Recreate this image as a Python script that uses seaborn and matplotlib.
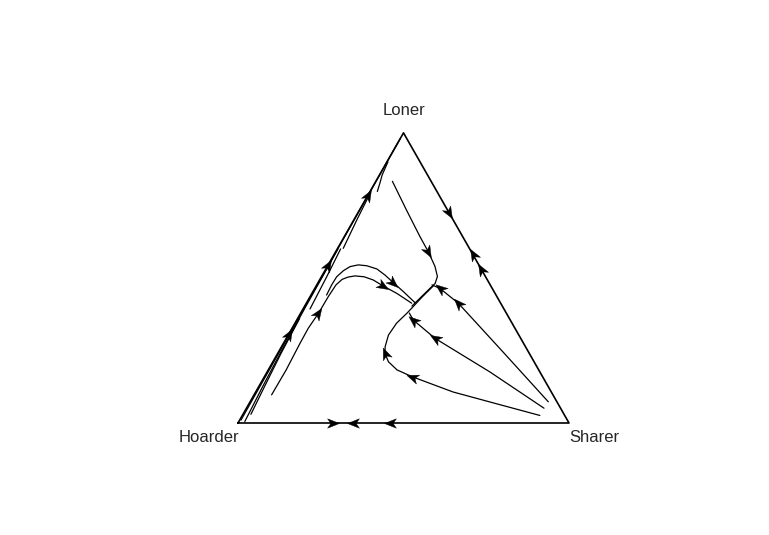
import numpy as np
import pandas as pd
import seaborn as sns
import matplotlib.pyplot as plt
from matplotlib.path import Path
from matplotlib.markers import MarkerStyle

# corner names of the simplex
corner_labels = ["Hoarder", "Sharer", "Loner"]

# trajectories, as sharer share and loner share
# (hoarder share = 1 - sharer - loner); *_arrows = point index carrying an arrow head
top_sharer = [0.050, 0.142, 0.228, 0.280, 0.325, 0.350, 0.355, 0.348, 0.336, 0.324]
top_loner = [0.833, 0.734, 0.643, 0.590, 0.540, 0.505, 0.481, 0.464, 0.434, 0.403]
top_arrows = [3]

bend_sharer = [0.899, 0.749, 0.596, 0.519, 0.445, 0.389, 0.349, 0.324, 0.313, 0.303,
               0.307, 0.321, 0.327, 0.339, 0.354]
bend_loner = [0.026, 0.066, 0.107, 0.134, 0.160, 0.183, 0.211, 0.240, 0.263, 0.303,
              0.344, 0.378, 0.396, 0.434, 0.473]
bend_arrows = [4, 7]

fan_mid_sharer = [0.899, 0.673, 0.449, 0.352, 0.328]
fan_mid_loner = [0.051, 0.176, 0.292, 0.355, 0.379]
fan_mid_arrows = [2, 3]

fan_top_sharer = [0.901, 0.678, 0.459, 0.378, 0.348]
fan_top_loner = [0.073, 0.245, 0.413, 0.464, 0.476]
fan_top_arrows = [2, 3]

hump_low_sharer = [0.053, 0.054, 0.050, 0.049, 0.054, 0.055, 0.058, 0.067, 0.081, 0.100,
                   0.129, 0.162, 0.203, 0.256, 0.318]
hump_low_loner = [0.097, 0.183, 0.275, 0.327, 0.378, 0.436, 0.476, 0.495, 0.503, 0.507,
                  0.504, 0.493, 0.472, 0.447, 0.413]
hump_low_arrows = [4, 12]

hump_high_sharer = [0.047, 0.045, 0.046, 0.056, 0.069, 0.091, 0.118, 0.154, 0.189, 0.227,
                    0.273, 0.327]
hump_high_loner = [0.441, 0.476, 0.504, 0.525, 0.539, 0.545, 0.542, 0.531, 0.510, 0.484,
                   0.453, 0.415]
hump_high_arrows = [9]

# thin runs hugging the Hoarder-Loner edge
edge_a_sharer = [0.004, 0.002, 0.001, 0.000]
edge_a_loner = [0.010, 0.350, 0.700, 0.980]
edge_b_sharer = [0.018, 0.012, 0.007, 0.004, 0.002]
edge_b_loner = [0.005, 0.120, 0.250, 0.400, 0.600]
edge_c_sharer = [0.024, 0.017, 0.010, 0.006]
edge_c_loner = [0.030, 0.130, 0.240, 0.360]
edge_d_sharer = [0.021, 0.016, 0.010]
edge_d_loner = [0.393, 0.504, 0.600]
edge_e_sharer = [0.017, 0.009, 0.004]
edge_e_loner = [0.602, 0.700, 0.780]
edge_f_sharer = [0.022, 0.015, 0.008, 0.003]
edge_f_loner = [0.798, 0.828, 0.855, 0.900]

# arrows on the triangle sides (direction +1 = towards Loner / towards Sharer on the base)
left_side_loner = [0.307, 0.545, 0.786]
left_side_dir = [1, 1, 1]
right_side_loner = [0.723, 0.583, 0.530]
right_side_dir = [-1, 1, 1]
base_sharer = [0.288, 0.348, 0.459]
base_dir = [1, -1, -1]

trajectories = {
    "top": (top_sharer, top_loner, top_arrows),
    "bend": (bend_sharer, bend_loner, bend_arrows),
    "fan_mid": (fan_mid_sharer, fan_mid_loner, fan_mid_arrows),
    "fan_top": (fan_top_sharer, fan_top_loner, fan_top_arrows),
    "hump_low": (hump_low_sharer, hump_low_loner, hump_low_arrows),
    "hump_high": (hump_high_sharer, hump_high_loner, hump_high_arrows),
    "edge_a": (edge_a_sharer, edge_a_loner, []),
    "edge_b": (edge_b_sharer, edge_b_loner, []),
    "edge_c": (edge_c_sharer, edge_c_loner, []),
    "edge_d": (edge_d_sharer, edge_d_loner, []),
    "edge_e": (edge_e_sharer, edge_e_loner, []),
    "edge_f": (edge_f_sharer, edge_f_loner, []),
}

H = np.sqrt(3) / 2


def to_xy(sharer, loner):
    sharer = np.asarray(sharer, dtype=float)
    loner = np.asarray(loner, dtype=float)
    return sharer + loner / 2, loner * H


rows = []
for name, (s, l, _) in trajectories.items():
    x, y = to_xy(s, l)
    for i in range(len(x)):
        rows.append({"traj": name, "step": i, "x": x[i], "y": y[i]})
df = pd.DataFrame(rows)

sns.set_style("white")
plt.rcParams["font.family"] = ["Liberation Sans", "DejaVu Sans"]

fig = plt.figure(figsize=(7.69, 5.35), dpi=100)
ax = fig.add_axes([0.20189, 0.14673, 0.64564, 0.68879])

# triangle outline
tri_x, tri_y = to_xy([0, 1, 0, 0], [0, 0, 1, 0])
sns.lineplot(x=tri_x, y=tri_y, sort=False, estimator=None, color="black", lw=1.2, ax=ax)

sns.lineplot(data=df, x="x", y="y", units="traj", estimator=None, sort=False,
             color="black", lw=0.9, ax=ax)

ax.set_xlim(-0.25, 1.25)
ax.set_ylim(-0.1, 1.0)
ax.set_axis_off()

head = Path([(1, 0), (-1, 0.8), (-0.45, 0), (-1, -0.8), (1, 0)],
            [Path.MOVETO, Path.LINETO, Path.LINETO, Path.LINETO, Path.CLOSEPOLY])


def arrow(x, y, dx, dy):
    p0 = ax.transData.transform((x - dx, y - dy))
    p1 = ax.transData.transform((x, y))
    ang = np.degrees(np.arctan2(p1[1] - p0[1], p1[0] - p0[0]))
    ax.plot([x], [y], linestyle="none", marker=MarkerStyle(head).rotated(deg=ang),
            markersize=8.5, color="black", markeredgewidth=0.3)


for name, (s, l, idx) in trajectories.items():
    x, y = to_xy(s, l)
    for i in idx:
        arrow(x[i], y[i], x[i] - x[i - 1], y[i] - y[i - 1])

for l, d in zip(left_side_loner, left_side_dir):
    x, y = to_xy([0], [l])
    arrow(x[0], y[0], 0.5 * d * 0.01, H * d * 0.01)
for l, d in zip(right_side_loner, right_side_dir):
    x, y = to_xy([1 - l], [l])
    arrow(x[0], y[0], -0.5 * d * 0.01, H * d * 0.01)
for s, d in zip(base_sharer, base_dir):
    x, y = to_xy([s], [0])
    arrow(x[0], y[0], d * 0.01, 0)

# corner labels
ax.text(-0.088, -0.042, corner_labels[0], ha="center", va="center", fontsize=12)
ax.text(1.076, -0.042, corner_labels[1], ha="center", va="center", fontsize=12)
ax.text(0.5, 0.934, corner_labels[2], ha="center", va="center", fontsize=12)

fig.savefig("out.png", dpi=100)
